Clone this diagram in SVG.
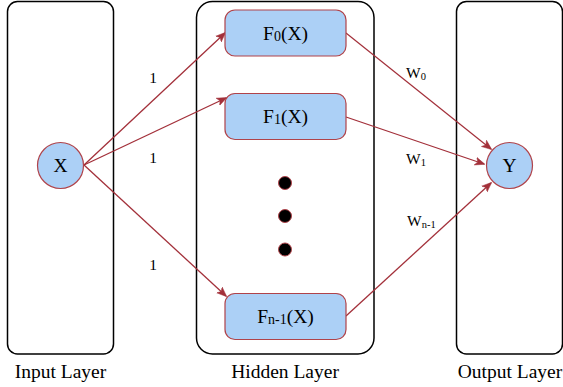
<svg xmlns="http://www.w3.org/2000/svg" width="563" height="387" viewBox="0 0 563 387" font-family="'Liberation Serif', 'Times New Roman', 'DejaVu Serif', serif">
<style>
.layer{fill:#fff;stroke:#000;stroke-width:1.5}
.node{fill:#acd0f6;stroke:#b0434a;stroke-width:1.2}
.dot{fill:#000;stroke:#b0434a;stroke-width:1}
.edge{fill:none;stroke:#a3303a;stroke-width:1.3}
text{font-family:'Liberation Serif','Times New Roman','DejaVu Serif',serif;fill:#000}
.lbl{font-size:19.5px;text-anchor:middle}
.nt{font-size:19.5px;text-anchor:middle}
.w{font-size:15.5px}
.ws{font-size:10.5px}
.fs{font-size:14px}
</style>
<defs>
<marker id="arr" viewBox="0 0 10 10" refX="9" refY="5" markerWidth="10" markerHeight="10" markerUnits="userSpaceOnUse" orient="auto">
<path d="M0,1 L10,5 L0,9 L2.5,5 Z" fill="#a3303a" stroke="#a3303a" stroke-width="0.5"/>
</marker>
</defs>
<rect width="563" height="387" fill="#fff"/>
<g id="input-layer">
<rect class="layer" x="7.5" y="1.5" width="106" height="352.5" rx="10"/>
<text class="lbl" x="60.5" y="378">Input Layer</text>
</g>
<g id="hidden-layer">
<rect class="layer" x="196.5" y="1.5" width="177.5" height="352.5" rx="16"/>
<text class="lbl" x="285" y="378">Hidden Layer</text>
</g>
<g id="output-layer">
<rect class="layer" x="456.5" y="1.5" width="106" height="352.5" rx="10"/>
<text class="lbl" x="510" y="378">Output Layer</text>
</g>
<g id="edges">
<line class="edge" x1="84" y1="165" x2="225" y2="33" marker-end="url(#arr)"/>
<line class="edge" x1="84" y1="165" x2="226" y2="98" marker-end="url(#arr)"/>
<line class="edge" x1="84" y1="165" x2="226" y2="296" marker-end="url(#arr)"/>
<line class="edge" x1="346" y1="33" x2="491" y2="149" marker-end="url(#arr)"/>
<line class="edge" x1="346" y1="117" x2="484" y2="164" marker-end="url(#arr)"/>
<line class="edge" x1="346" y1="316" x2="491" y2="183" marker-end="url(#arr)"/>
<text class="w" x="153" y="83" text-anchor="middle">1</text>
<text class="w" x="153" y="163" text-anchor="middle">1</text>
<text class="w" x="153" y="270" text-anchor="middle">1</text>
<text class="w" x="406" y="78">W<tspan class="ws" dy="1.5">0</tspan></text>
<text class="w" x="406" y="164">W<tspan class="ws" dy="1.5">1</tspan></text>
<text class="w" x="407" y="226">W<tspan class="ws" dy="1.5">n-1</tspan></text>
</g>
<g id="X">
<circle class="node" cx="60.5" cy="165.5" r="23"/>
<text class="nt" x="60.5" y="172">X</text>
</g>
<g id="F0">
<rect class="node" x="225" y="10" width="121" height="46" rx="10"/>
<text class="nt" x="285.5" y="40">F<tspan class="fs" dy="1">0</tspan><tspan dy="-1">(X)</tspan></text>
</g>
<g id="F1">
<rect class="node" x="225" y="93.5" width="121" height="46" rx="10"/>
<text class="nt" x="285.5" y="123">F<tspan class="fs" dy="1">1</tspan><tspan dy="-1">(X)</tspan></text>
</g>
<g id="dots">
<circle class="dot" cx="285" cy="183" r="6.5"/>
<circle class="dot" cx="285" cy="216" r="6.5"/>
<circle class="dot" cx="285" cy="249.5" r="6.5"/>
</g>
<g id="Fn-1">
<rect class="node" x="225" y="293.5" width="121" height="46" rx="10"/>
<text class="nt" x="285.5" y="323">F<tspan class="fs" dy="1">n-1</tspan><tspan dy="-1">(X)</tspan></text>
</g>
<g id="Y">
<circle class="node" cx="509.5" cy="165.5" r="23"/>
<text class="nt" x="509.5" y="172">Y</text>
</g>
</svg>
